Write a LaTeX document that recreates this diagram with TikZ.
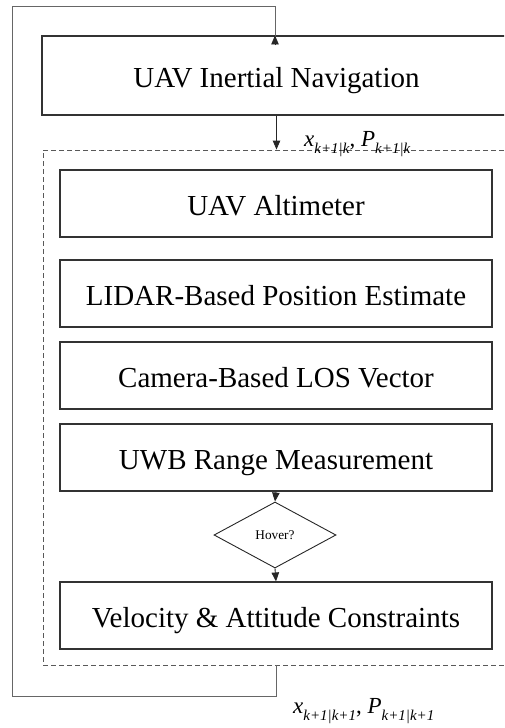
\documentclass[tikz,border=0pt]{standalone}
\usepackage{fontspec}
\setmainfont{Liberation Serif}
\usetikzlibrary{shapes.geometric,arrows.meta}
\newcommand{\mylbl}[2]{\textit{#1}\raisebox{-0.32em}{\fontsize{15}{15}\selectfont\textit{#2}}}
\begin{document}
\begin{tikzpicture}[x=1pt,y=-1pt,
  blk/.style={draw=black!80, line width=1.1pt, rectangle, inner sep=0pt, text height=26pt, text depth=3pt, font=\fontsize{29}{34}\selectfont},
  grp/.style={draw=black!65, line width=0.9pt, dash pattern=on 5pt off 3pt, rectangle, inner sep=0pt},
  dec/.style={draw=black!85, line width=0.9pt, diamond, inner sep=0pt, minimum width=122pt, minimum height=66pt, font=\fontsize{13.3}{15}\selectfont},
  arr/.style={draw=black!85, line width=0.9pt, -{Triangle[length=9pt,width=7.5pt]}},
  loopline/.style={draw=black!60, line width=1pt},
  lbl/.style={inner sep=0pt, anchor=base west, font=\fontsize{23}{26}\selectfont}
]
\useasboundingbox (0,0) rectangle (504,728);
\clip (0,0) rectangle (504,728);

\node[blk, minimum width=469pt, minimum height=79pt] (nav) at (276.5,75.5) {UAV Inertial Navigation};
\node[grp, minimum width=477pt, minimum height=515pt] (group) at (281.5,407.5) {};

\node[blk, minimum width=432pt, minimum height=67pt] (alt) at (276,203.5) {UAV Altimeter};
\node[blk, minimum width=432pt, minimum height=67pt] (lidar) at (276,293.5) {LIDAR-Based Position Estimate};
\node[blk, minimum width=432pt, minimum height=67pt] (cam) at (276,375.5) {Camera-Based LOS Vector};
\node[blk, minimum width=432pt, minimum height=67pt] (uwb) at (276,457.5) {UWB Range Measurement};
\node[dec] (hover) at (275,535) {Hover?};
\node[blk, minimum width=432pt, minimum height=67pt] (vel) at (276,615.5) {Velocity \& Attitude Constraints};

\node[lbl] (l1) at (304,146) {\mylbl{x}{k+1|k}, \mylbl{P}{k+1|k}};
\node[lbl] (l2) at (293,713) {\mylbl{x}{k+1|k+1}, \mylbl{P}{k+1|k+1}};

\coordinate (lb) at (12,696);
\coordinate (lt) at (12,6);

\draw[arr] (nav.south) -- (nav.south |- group.north);
\draw[arr] (uwb.south) -- (hover.north);
\draw[arr] (hover.south) -- (vel.north);
\draw[loopline] (group.south -| nav.south) |- (lb) -- (lt) -| ([xshift=-1.5pt,yshift=-10pt]nav.north);
\draw[arr] ([xshift=-1.5pt,yshift=-10pt]nav.north) -- ([xshift=-1.5pt]nav.north);
\end{tikzpicture}
\end{document}
